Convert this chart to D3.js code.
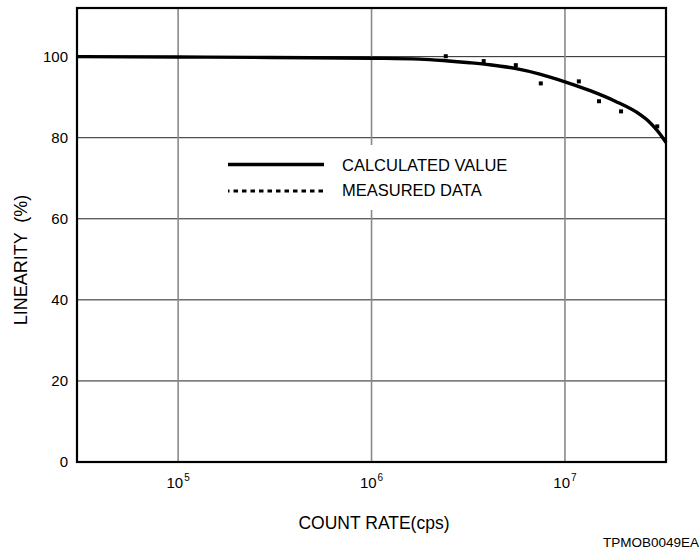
<!DOCTYPE html>
<html>
<head>
<meta charset="utf-8">
<script src="https://cdn.jsdelivr.net/npm/d3@7"></script>
<style>
  html, body { margin: 0; padding: 0; background: #fff; }
  svg { display: block; font-family: "Liberation Sans", Arial, sans-serif; }
</style>
</head>
<body>
<svg id="chart" width="699" height="550"></svg>
<script>
// ---- data ----
const calcRate = [3e4, 1e5, 3e5, 1e6, 1.77e6, 2.42e6, 3.22e6, 4.08e6, 5.51e6, 7.41e6, 1e7, 1.35e7, 1.82e7, 2.45e7, 2.69e7, 2.92e7, 3.1e7, 3.33e7];
const calcLinearity = [100.0, 99.9, 99.8, 99.6, 99.4, 99.0, 98.5, 98.0, 97.1, 95.7, 93.8, 91.6, 89.0, 85.7, 84.2, 82.4, 80.9, 78.8];

const measRate = [2.42e6, 3.8e6, 5.57e6, 7.5e6, 1.18e7, 1.5e7, 1.95e7, 3.0e7];
const measLinearity = [100.1, 98.9, 97.9, 93.4, 93.9, 89.0, 86.5, 82.8];

const yTicks = [0, 20, 40, 60, 80, 100];
const xTicks = [1e5, 1e6, 1e7];
const xTickBase = ["10", "10", "10"];
const xTickExp = ["5", "6", "7"];
const xDomain = [3e4, 3.33e7];
const yDomain = [0, 112];

const legendLabels = ["CALCULATED VALUE", "MEASURED DATA"];
const xTitle = "COUNT RATE(cps)";
const yTitle = "LINEARITY  (%)";
const figCode = "TPMOB0049EA";

// ---- layout ----
const L = 77, R = 666, T = 8, B = 462;
const svg = d3.select("#chart");
const x = d3.scaleLog().domain(xDomain).range([L, R]);
const y = d3.scaleLinear().domain(yDomain).range([B, T]);

// horizontal grid
svg.append("g").selectAll("line").data(yTicks.filter(d => d > 0)).join("line")
  .attr("x1", L).attr("x2", R)
  .attr("y1", d => y(d)).attr("y2", d => y(d))
  .attr("stroke", "#222").attr("stroke-width", 1);

// vertical grid
svg.append("g").selectAll("line").data(xTicks).join("line")
  .attr("x1", d => x(d)).attr("x2", d => x(d))
  .attr("y1", T).attr("y2", B)
  .attr("stroke", "#8a8a8a").attr("stroke-width", 1.6);

// legend background (hides grid behind legend)
svg.append("rect").attr("x", 215).attr("y", 145).attr("width", 320).attr("height", 65)
  .attr("fill", "#fff");

// calculated curve
const line = d3.line().x((d, i) => x(calcRate[i])).y(d => y(d)).curve(d3.curveMonotoneX);
svg.append("path").datum(calcLinearity)
  .attr("d", line)
  .attr("fill", "none").attr("stroke", "#000").attr("stroke-width", 3.4);

// measured points
svg.append("g").selectAll("rect").data(measLinearity).join("rect")
  .attr("x", (d, i) => x(measRate[i]) - 2)
  .attr("y", d => y(d) - 2)
  .attr("width", 4).attr("height", 4)
  .attr("fill", "#000");

// frame
svg.append("rect").attr("x", L).attr("y", T).attr("width", R - L).attr("height", B - T)
  .attr("fill", "none").attr("stroke", "#000").attr("stroke-width", 2.2);

// y axis tick labels
const yAxis = d3.axisLeft(y).tickValues(yTicks).tickSize(0).tickPadding(9);
const ya = svg.append("g").attr("transform", `translate(${L},0)`).call(yAxis);
ya.select(".domain").remove();
ya.selectAll("text").attr("font-size", 15).attr("fill", "#000")
  .attr("font-family", "Liberation Sans, Arial, sans-serif");

// x tick labels with superscripts
const xl = svg.append("g").selectAll("text").data(xTicks).join("text")
  .attr("x", d => x(d))
  .attr("y", 488)
  .attr("text-anchor", "middle")
  .attr("font-size", 15)
  .attr("fill", "#000");
xl.append("tspan").text((d, i) => xTickBase[i]);
xl.append("tspan").attr("dy", -7).attr("dx", 1).attr("font-size", 10).text((d, i) => xTickExp[i]);

// axis titles
svg.append("text").attr("x", 374).attr("y", 529).attr("text-anchor", "middle")
  .attr("font-size", 17.5).attr("fill", "#000").text(xTitle);
svg.append("text").attr("transform", "translate(27,260) rotate(-90)")
  .attr("text-anchor", "middle").attr("font-size", 18).attr("fill", "#000")
  .style("white-space", "pre").text(yTitle);

// figure code
svg.append("text").attr("x", 699).attr("y", 547).attr("text-anchor", "end")
  .attr("font-size", 13.5).attr("fill", "#000").text(figCode);

// legend
const lx1 = 228, lx2 = 324;
svg.append("line").attr("x1", lx1).attr("x2", lx2).attr("y1", 164.5).attr("y2", 164.5)
  .attr("stroke", "#000").attr("stroke-width", 3.4);
svg.append("line").attr("x1", lx1).attr("x2", lx2).attr("y1", 191).attr("y2", 191)
  .attr("stroke", "#000").attr("stroke-width", 3)
  .attr("stroke-dasharray", "4.5,4").attr("stroke-dashoffset", 3);
svg.append("text").attr("x", 342).attr("y", 170.5).attr("font-size", 16.5)
  .attr("fill", "#000").text(legendLabels[0]);
svg.append("text").attr("x", 342).attr("y", 195.5).attr("font-size", 16.5)
  .attr("fill", "#000").text(legendLabels[1]);
</script>
</body>
</html>
